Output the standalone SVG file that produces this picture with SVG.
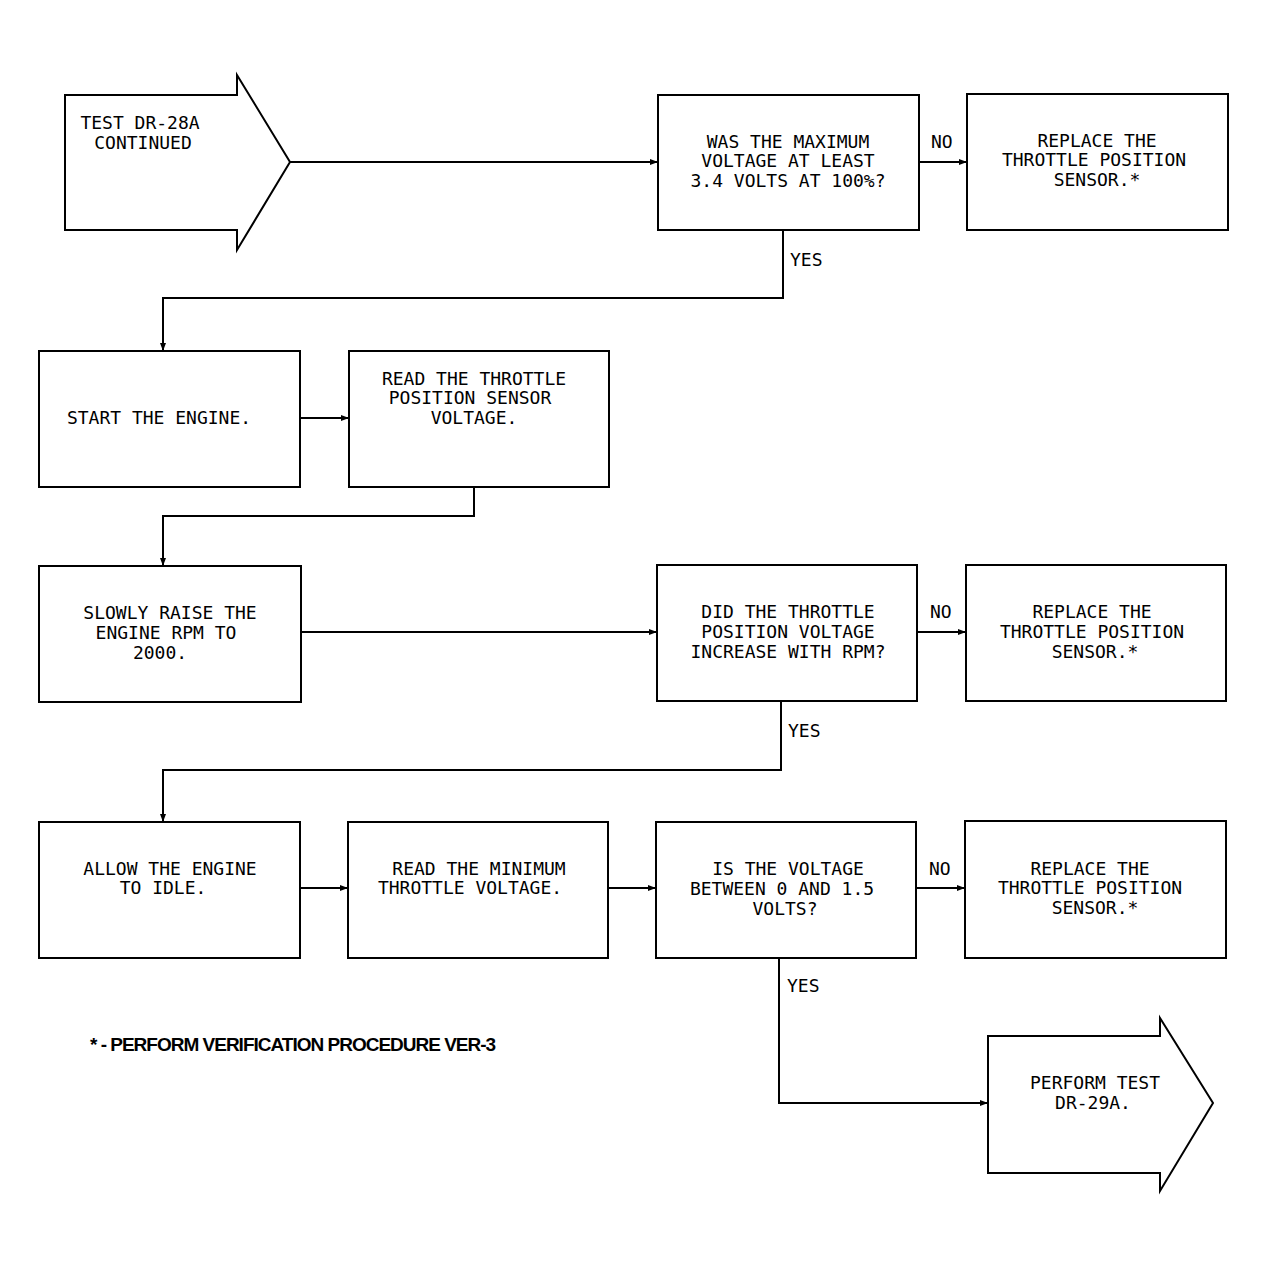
<svg xmlns="http://www.w3.org/2000/svg" width="1267" height="1268" viewBox="0 0 1267 1268">
<defs>
<marker id="ah" markerWidth="8" markerHeight="6" refX="8" refY="3" orient="auto" markerUnits="userSpaceOnUse"><path d="M0,0 L8,3 L0,6 Z" fill="#000"/></marker>
<style>
rect,path.s{fill:#fff;stroke:#000;stroke-width:2}
text{font-family:"DejaVu Sans Mono","Liberation Mono",monospace;font-size:18px;text-anchor:middle;fill:#000}
.c{fill:none;stroke:#000;stroke-width:2;marker-end:url(#ah)}
.l{text-anchor:start}
</style>
</defs>
<rect width="1267" height="1268" fill="#fff" style="stroke:none"/>
<g id="connectors">
<path class="c" d="M290,162 H658"/>
<path class="c" d="M919,162 H967"/>
<path class="c" d="M783,230 V298 H163 V351"/>
<path class="c" d="M300,418 H349"/>
<path class="c" d="M474,487 V516 H163 V566"/>
<path class="c" d="M301,632 H657"/>
<path class="c" d="M917,632 H966"/>
<path class="c" d="M781,701 V770 H163 V822"/>
<path class="c" d="M300,888 H348"/>
<path class="c" d="M608,888 H656"/>
<path class="c" d="M916,888 H965"/>
<path class="c" d="M779,958 V1103 H988"/>
<text class="l" x="931" y="148">NO</text>
<text class="l" x="790" y="266">YES</text>
<text class="l" x="930" y="618">NO</text>
<text class="l" x="788" y="737">YES</text>
<text class="l" x="929" y="875">NO</text>
<text class="l" x="787" y="992">YES</text>
</g>
<g id="start"><path class="s" d="M65,95 H237 V75 L290,162 L237,250 V230 H65 Z"/><text x="140" y="129">TEST DR-28A</text><text x="143" y="149">CONTINUED</text></g>
<g id="q1"><rect x="658" y="95" width="261" height="135"/><text x="788" y="148">WAS THE MAXIMUM</text><text x="788" y="167">VOLTAGE AT LEAST</text><text x="788" y="187">3.4 VOLTS AT 100%?</text></g>
<g id="r1"><rect x="967" y="94" width="261" height="136"/><text x="1097" y="147">REPLACE THE</text><text x="1094" y="166">THROTTLE POSITION</text><text x="1097" y="186">SENSOR.*</text></g>
<g id="start-engine"><rect x="39" y="351" width="261" height="136"/><text x="159" y="424">START THE ENGINE.</text></g>
<g id="read1"><rect x="349" y="351" width="260" height="136"/><text x="474" y="385">READ THE THROTTLE</text><text x="470" y="404">POSITION SENSOR</text><text x="474" y="424">VOLTAGE.</text></g>
<g id="raise"><rect x="39" y="566" width="262" height="136"/><text x="170" y="619">SLOWLY RAISE THE</text><text x="166" y="639">ENGINE RPM TO</text><text x="160" y="659">2000.</text></g>
<g id="q2"><rect x="657" y="565" width="260" height="136"/><text x="788" y="618">DID THE THROTTLE</text><text x="788" y="638">POSITION VOLTAGE</text><text x="788" y="658">INCREASE WITH RPM?</text></g>
<g id="r2"><rect x="966" y="565" width="260" height="136"/><text x="1092" y="618">REPLACE THE</text><text x="1092" y="638">THROTTLE POSITION</text><text x="1095" y="658">SENSOR.*</text></g>
<g id="idle"><rect x="39" y="822" width="261" height="136"/><text x="170" y="875">ALLOW THE ENGINE</text><text x="163" y="894">TO IDLE.</text></g>
<g id="read2"><rect x="348" y="822" width="260" height="136"/><text x="479" y="875">READ THE MINIMUM</text><text x="470" y="894">THROTTLE VOLTAGE.</text></g>
<g id="q3"><rect x="656" y="822" width="260" height="136"/><text x="788" y="875">IS THE VOLTAGE</text><text x="782" y="895">BETWEEN 0 AND 1.5</text><text x="785" y="915">VOLTS?</text></g>
<g id="r3"><rect x="965" y="821" width="261" height="137"/><text x="1090" y="875">REPLACE THE</text><text x="1090" y="894">THROTTLE POSITION</text><text x="1095" y="914">SENSOR.*</text></g>
<g id="end"><path class="s" d="M988,1036 H1160 V1018 L1213,1103 L1160,1191 V1173 H988 Z"/><text x="1095" y="1089">PERFORM TEST</text><text x="1093" y="1109">DR-29A.</text></g>
<text class="l" x="90" y="1051" style="font-family:'Liberation Sans',Arial,sans-serif;font-weight:bold;font-size:19px;letter-spacing:-1px">* - PERFORM VERIFICATION PROCEDURE VER-3</text>
</svg>
